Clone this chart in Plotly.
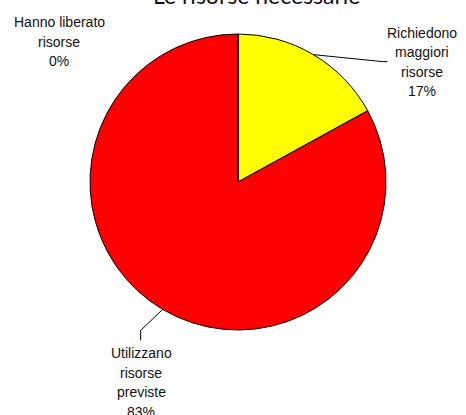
import math
import plotly.graph_objects as go

# ---- data ----
labels = ["Richiedono maggiori risorse", "Utilizzano risorse previste", "Hanno liberato risorse"]
label_lines = [["Richiedono", "maggiori", "risorse"], ["Utilizzano", "risorse", "previste"], ["Hanno liberato", "risorse"]]
values = [17, 83, 0]
colors = ["#FFFF00", "#FF0000", "#FF0000"]
title_text = "Le risorse necessarie"

W, H = 466, 415
CX, CY, R = 238, 182, 148  # pie centre / radius in pixels


def px(x):
    return x / W


def py(y):
    return 1 - y / H


fig = go.Figure(go.Pie(
    labels=labels, values=values, sort=False, direction="clockwise", rotation=0,
    marker=dict(colors=colors, line=dict(color="black", width=1)),
    textinfo="none", hoverinfo="label+percent", showlegend=False,
    domain=dict(x=[px(CX - R), px(CX + R)], y=[py(CY + R), py(CY - R)]),
))

total = sum(values)
pcts = [round(100 * v / total) for v in values]

# mid angles (degrees clockwise from 12 o'clock)
mids = []
acc = 0
for v in values:
    mids.append((acc + v / 2) / total * 360)
    acc += v

# label placements (text block centre x, top y) and leader elbows (pixel offsets)
text_pos = [(422, 23), (141, 343), (59, 12)]
elbows = [[(69, 7), (74, 7)], [(-22, 21), (-22, 31)], None]

font = dict(family="Liberation Sans, Arial, sans-serif", size=14, color="#111")
LINE_H = 19.5
annotations = []
shapes = []
for i, (lines, p) in enumerate(zip(label_lines, pcts)):
    tx, ty = text_pos[i]
    all_lines = lines + [f"{p}%"]
    for k, t in enumerate(all_lines):
        annotations.append(dict(text=t, x=px(tx), y=py(ty + k * LINE_H), xref="paper", yref="paper",
                                xanchor="center", yanchor="top", showarrow=False, font=font))
    if elbows[i] is not None:
        a = math.radians(mids[i])
        ex, ey = CX + R * math.sin(a), CY - R * math.cos(a)
        pts = [(ex, ey)] + [(ex + dx, ey + dy) for dx, dy in elbows[i]]
        path = "M " + " L ".join(f"{px(x):.5f},{py(y):.5f}" for x, y in pts)
        shapes.append(dict(type="path", path=path, xref="paper", yref="paper",
                           line=dict(color="black", width=1)))

annotations.append(dict(text=title_text, x=px(256), y=py(11), xref="paper", yref="paper",
                        xanchor="center", yanchor="bottom", showarrow=False,
                        font=dict(family="Lato, Carlito, sans-serif", size=23, color="#111")))

fig.update_layout(width=W, height=H, margin=dict(l=0, r=0, t=0, b=0),
                  paper_bgcolor="white", plot_bgcolor="white",
                  annotations=annotations, shapes=shapes)

fig.write_html("out.html", config={"displayModeBar": False},
               post_script="document.body.style.margin='0px';document.body.style.overflow='hidden';")
